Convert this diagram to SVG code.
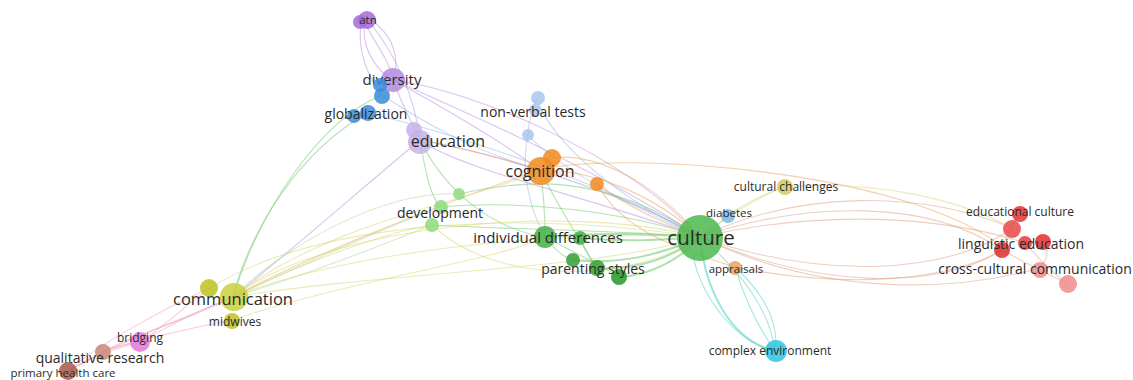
<svg xmlns="http://www.w3.org/2000/svg" width="1133" height="380" viewBox="0 0 1133 380">
  <style>
    .e { fill: none; stroke-width: 1.1; stroke-opacity: 0.5; }
    .ew { fill: none; stroke-width: 2; stroke-opacity: 0.55; }
    .pu { stroke: #b58be0; }
    .bl { stroke: #8fb5e6; }
    .gr { stroke: #6cc66c; }
    .lg { stroke: #a8dc98; }
    .or { stroke: #f0a050; }
    .ye { stroke: #d6d870; }
    .rd { stroke: #dca080; }
    .cy { stroke: #4ccfc0; }
    .pk { stroke: #f0a0c0; }
    .n { fill-opacity: 0.85; }
    text { font-family: "Open Sans", "DejaVu Sans", sans-serif; fill: #2b2b2b; text-anchor: middle; dominant-baseline: central; }
    .s11 { font-size: 11.5px; }
    .s12 { font-size: 12px; }
    .s14 { font-size: 14px; }
    .s15 { font-size: 15px; }
    .s16 { font-size: 16px; }
    .s165 { font-size: 16.5px; }
    .s20 { font-size: 20.5px; }
  </style>

  <!-- connectors -->
  <g id="edges">
    <!-- atn / diversity loops -->
    <path class="e pu" d="M365,22 C360,45 375,70 393,80"/>
    <path class="e pu" d="M365,22 C372,40 390,60 393,80"/>
    <path class="e pu" d="M368,18 C395,35 400,60 393,80"/>
    <path class="e pu" d="M362,22 C355,50 370,80 382,95"/>
    <path class="e pu" d="M368,20 C400,60 415,100 420,140"/>
    <!-- diversity / education fan -->
    <path class="e pu" d="M393,80 C400,100 410,120 420,140"/>
    <path class="e pu" d="M393,80 C430,100 500,140 540,170"/>
    <path class="e pu" d="M393,80 C460,110 600,170 700,237"/>
    <path class="e pu" d="M393,80 C470,90 620,150 700,237"/>
    <path class="e bl" d="M368,113 C440,130 600,180 700,237"/>
    <path class="e bl" d="M382,95 C420,120 470,150 540,170"/>
    <path class="e gr" d="M368,113 C300,150 250,230 233,297"/>
    <path class="e gr" d="M382,95 C320,120 260,210 233,297"/>
    <path class="e pu" d="M420,140 C460,170 600,200 700,237"/>
    <path class="e pu" d="M420,140 C480,150 620,190 700,237"/>
    <path class="e gr" d="M420,140 C425,170 430,195 440,207"/>
    <path class="e gr" d="M420,140 C450,200 500,230 545,237"/>
    <path class="e or" d="M420,140 C470,150 510,160 540,170"/>
    <path class="e pu" d="M420,140 C360,190 280,260 233,297"/>
    <!-- non-verbal tests -->
    <path class="e bl" d="M537,98 C545,130 600,190 700,237"/>
    <path class="e bl" d="M528,135 C560,170 640,210 700,237"/>
    <path class="e bl" d="M537,98 C530,115 528,125 528,135"/>
    <path class="e bl" d="M528,135 C520,170 530,210 545,237"/>
    <!-- cognition -->
    <path class="e or" d="M540,170 C600,170 660,200 700,237"/>
    <path class="e or" d="M548,158 C610,150 670,200 700,237"/>
    <path class="e or" d="M597,183 C630,210 670,225 700,237"/>
    <path class="e or" d="M597,183 C620,230 680,250 735,267"/>
    <path class="e or" d="M540,170 C620,150 900,170 1000,245"/>
    <path class="e or" d="M540,170 C450,200 300,260 233,297"/>
    <path class="e gr" d="M540,170 C545,200 545,220 545,237"/>
    <path class="e gr" d="M540,170 C560,210 580,240 597,268"/>
    <path class="e gr" d="M459,194 C520,180 600,170 700,237"/>
    <!-- development -->
    <path class="e gr" d="M440,207 C520,200 620,210 700,237"/>
    <path class="e gr" d="M432,225 C520,230 620,230 700,237"/>
    <path class="e lg" d="M440,207 C380,230 290,270 233,297"/>
    <path class="e lg" d="M432,225 C370,250 290,280 233,297"/>
    <path class="e lg" d="M459,194 C380,190 280,250 233,297"/>
    <path class="e ye" d="M432,225 C500,290 640,280 700,237"/>
    <!-- green core to culture -->
    <path class="ew gr" d="M545,237 C600,232 650,234 700,237"/>
    <path class="ew gr" d="M580,238 C630,242 660,240 700,237"/>
    <path class="ew gr" d="M573,260 C620,265 660,255 700,237"/>
    <path class="ew gr" d="M597,268 C640,270 670,258 700,237"/>
    <path class="ew gr" d="M620,277 C650,275 680,260 700,237"/>
    <path class="e gr" d="M545,237 C555,250 565,258 573,260"/>
    <path class="e gr" d="M545,237 C580,255 600,265 620,277"/>
    <path class="e gr" d="M580,238 C585,250 590,260 597,268"/>
    <!-- communication to core -->
    <path class="e ye" d="M233,297 C320,230 550,200 700,237"/>
    <path class="e ye" d="M233,297 C350,250 560,230 700,237"/>
    <path class="e ye" d="M210,288 C320,220 520,210 700,237"/>
    <path class="e ye" d="M233,297 C400,270 600,270 700,237"/>
    <path class="e ye" d="M232,320 C350,280 500,260 545,237"/>
    <path class="e ye" d="M233,297 C330,220 480,200 540,170"/>
    <path class="e ye" d="M233,297 C330,250 400,230 432,225"/>
    <!-- communication to lower left -->
    <path class="e pk" d="M233,297 C200,310 170,325 140,342"/>
    <path class="e pk" d="M210,288 C180,310 160,330 140,342"/>
    <path class="e pk" d="M233,297 C190,320 130,335 103,352"/>
    <path class="e pk" d="M232,320 C180,330 120,345 103,352"/>
    <path class="e pk" d="M233,297 C180,320 100,350 68,371"/>
    <path class="e pk" d="M210,288 C160,310 90,350 68,371"/>
    <path class="e pk" d="M140,342 C120,345 110,348 103,352"/>
    <path class="e pk" d="M140,342 C110,350 85,360 68,371"/>
    <path class="e pk" d="M103,352 C90,360 78,366 68,371"/>
    <!-- culture to right side -->
    <path class="e gr" d="M700,237 C720,225 725,218 728,215"/>
    <path class="e ye" d="M700,237 C730,215 760,195 785,187"/>
    <path class="e ye" d="M728,215 C750,200 770,192 785,187"/>
    <path class="e rd" d="M700,237 C800,190 920,190 1012,228"/>
    <path class="e rd" d="M700,237 C810,200 930,200 1002,250"/>
    <path class="e rd" d="M700,237 C820,210 940,215 1025,243"/>
    <path class="e ye" d="M785,187 C880,180 960,200 1012,228"/>
    <path class="e rd" d="M700,237 C820,290 940,290 1002,250"/>
    <path class="e rd" d="M700,237 C830,300 960,290 1040,268"/>
    <path class="e rd" d="M700,237 C820,280 950,275 1012,228"/>
    <path class="e rd" d="M735,267 C850,290 950,280 1002,250"/>
    <!-- culture to complex environment -->
    <path class="ew cy" d="M700,237 C705,290 730,340 775,351"/>
    <path class="e cy" d="M692,250 C700,300 740,345 775,351"/>
    <path class="e cy" d="M700,237 C740,270 770,310 775,351"/>
    <path class="e cy" d="M735,267 C760,290 780,320 775,351"/>
    <path class="e cy" d="M735,267 C745,300 760,330 775,351"/>
    <!-- red cluster internal -->
    <path class="e rd" d="M1020,213 C1015,220 1013,225 1012,228"/>
    <path class="e rd" d="M1012,228 C1005,238 1003,245 1002,250"/>
    <path class="e rd" d="M1002,250 C1020,260 1050,275 1068,284"/>
    <path class="e rd" d="M1025,243 C1040,260 1055,275 1068,284"/>
    <path class="e rd" d="M1045,243 C1050,255 1045,262 1040,268"/>
  </g>

  <!-- nodes -->
  <g id="node-atn">
    <circle class="n" cx="360" cy="22" r="7" fill="#a46ad8"/>
    <circle class="n" cx="367" cy="20" r="9" fill="#a46ad8"/>
    <text class="s11" x="368" y="19">atn</text>
  </g>
  <g id="node-diversity">
    <circle class="n" cx="393" cy="80" r="12" fill="#b289e0"/>
    <text class="s15" x="392" y="79">diversity</text>
  </g>
  <g id="node-globalization">
    <circle class="n" cx="380" cy="85" r="7" fill="#3a8cd8"/>
    <circle class="n" cx="382" cy="96" r="8" fill="#3a8cd8"/>
    <circle class="n" cx="354" cy="116" r="7" fill="#3a8cd8"/>
    <circle class="n" cx="368" cy="113" r="8" fill="#3a8cd8"/>
    <text class="s14" x="366" y="113">globalization</text>
  </g>
  <g id="node-education">
    <circle class="n" cx="414" cy="130" r="8" fill="#c7b2e8"/>
    <circle class="n" cx="420" cy="142" r="12" fill="#c7b2e8"/>
    <text class="s16" x="448" y="141">education</text>
  </g>
  <g id="node-non-verbal-tests">
    <circle class="n" cx="538" cy="98" r="7" fill="#a9c5ec"/>
    <circle class="n" cx="535" cy="110" r="6" fill="#a9c5ec"/>
    <circle class="n" cx="528" cy="135" r="6" fill="#a9c5ec"/>
    <text class="s14" x="533" y="111">non-verbal tests</text>
  </g>
  <g id="node-cognition">
    <circle class="n" cx="552" cy="158" r="9" fill="#f28a1e"/>
    <circle class="n" cx="541" cy="171" r="14" fill="#f28a1e"/>
    <circle class="n" cx="597" cy="184" r="7" fill="#f28a1e"/>
    <text class="s16" x="540" y="171">cognition</text>
  </g>
  <g id="node-development">
    <circle class="n" cx="459" cy="194" r="6" fill="#8edc7c"/>
    <circle class="n" cx="441" cy="207" r="7" fill="#8edc7c"/>
    <circle class="n" cx="432" cy="225" r="7" fill="#8edc7c"/>
    <text class="s14" x="440" y="212">development</text>
  </g>
  <g id="node-individual-differences">
    <circle class="n" cx="545" cy="237" r="11" fill="#44b044"/>
    <circle class="n" cx="580" cy="238" r="7" fill="#44b044"/>
    <text class="s15" x="548" y="237">individual differences</text>
  </g>
  <g id="node-parenting-styles">
    <circle class="n" cx="573" cy="260" r="7" fill="#30a030"/>
    <circle class="n" cx="597" cy="268" r="8" fill="#30a030"/>
    <circle class="n" cx="619" cy="277" r="8" fill="#259825"/>
    <text class="s14" x="593" y="268">parenting styles</text>
  </g>
  <g id="node-culture">
    <circle class="n" cx="700" cy="238" r="23" fill="#4cb84c"/>
    <text class="s20" x="701" y="237">culture</text>
  </g>
  <g id="node-diabetes">
    <circle class="n" cx="728" cy="216" r="7" fill="#7cb6e2"/>
    <text class="s11" x="729" y="212">diabetes</text>
  </g>
  <g id="node-cultural-challenges">
    <circle class="n" cx="785" cy="187" r="8" fill="#cfcb62"/>
    <text class="s12" x="786" y="186">cultural challenges</text>
  </g>
  <g id="node-appraisals">
    <circle class="n" cx="735" cy="268" r="7" fill="#e8a462"/>
    <text class="s11" x="736" y="268">appraisals</text>
  </g>
  <g id="node-complex-environment">
    <circle class="n" cx="776" cy="351" r="11" fill="#2ec6e0"/>
    <text class="s12" x="770" y="350">complex environment</text>
  </g>
  <g id="node-educational-culture">
    <circle class="n" cx="1020" cy="214" r="8" fill="#e23232"/>
    <circle class="n" cx="1012" cy="229" r="9" fill="#e84848"/>
    <text class="s12" x="1020" y="211">educational culture</text>
  </g>
  <g id="node-linguistic-education">
    <circle class="n" cx="1002" cy="250" r="8" fill="#e02c2c"/>
    <circle class="n" cx="1025" cy="243" r="7" fill="#e23a3a"/>
    <circle class="n" cx="1043" cy="242" r="8" fill="#e02c2c"/>
    <text class="s14" x="1021" y="243">linguistic education</text>
  </g>
  <g id="node-cross-cultural-communication">
    <circle class="n" cx="1040" cy="270" r="8" fill="#f08c8c"/>
    <circle class="n" cx="1068" cy="284" r="9" fill="#f08c8c"/>
    <text class="s14" x="1035" y="268">cross-cultural communication</text>
  </g>
  <g id="node-communication">
    <circle class="n" cx="209" cy="288" r="9" fill="#bcc21e"/>
    <circle class="n" cx="234" cy="297" r="14" fill="#cbcf3c"/>
    <circle class="n" cx="232" cy="321" r="8" fill="#bcc21e"/>
    <text class="s165" x="233" y="298">communication</text>
  </g>
  <g id="node-midwives">
    <text class="s12" x="235" y="321">midwives</text>
  </g>
  <g id="node-bridging">
    <circle class="n" cx="140" cy="342" r="10" fill="#e478d6"/>
    <text class="s12" x="140" y="337">bridging</text>
  </g>
  <g id="node-qualitative-research">
    <circle class="n" cx="103" cy="352" r="8" fill="#c88878"/>
    <text class="s14" x="100" y="357">qualitative research</text>
  </g>
  <g id="node-primary-health-care">
    <circle class="n" cx="68" cy="371" r="9" fill="#a85848"/>
    <text class="s11" x="63" y="372">primary health care</text>
  </g>
</svg>
